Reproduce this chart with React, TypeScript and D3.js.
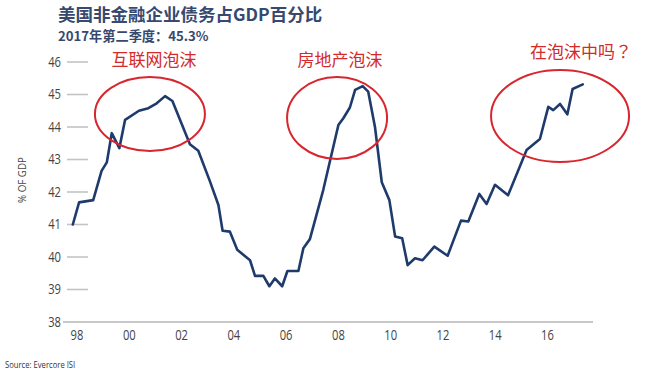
import React from "react";
import * as d3 from "d3";

const W = 657;
const H = 376;

const titleText = "美国非金融企业债务占GDP百分比";
const subtitleText = "2017年第二季度：45.3%";
const yAxisLabel = "% OF GDP";
const sourceText = "Source: Evercore ISI";

const yTicks = [38, 39, 40, 41, 42, 43, 44, 45, 46];
const xTicks = [1998, 2000, 2002, 2004, 2006, 2008, 2010, 2012, 2014, 2016];
const xTickLabels = ["98", "00", "02", "04", "06", "08", "10", "12", "14", "16"];

const dates = [
  1997.84, 1998.08, 1998.62, 1998.94, 1999.14, 1999.33, 1999.62, 1999.84, 2000.37, 2000.73,
  2001.05, 2001.37, 2001.65, 2002.32, 2002.64, 2003.09, 2003.41, 2003.57, 2003.85, 2004.13,
  2004.62, 2004.81, 2005.13, 2005.36, 2005.57, 2005.85, 2006.05, 2006.47, 2006.66, 2006.91,
  2007.42, 2008.0, 2008.19, 2008.44, 2008.64, 2008.93, 2009.14, 2009.4, 2009.66, 2009.95,
  2010.17, 2010.44, 2010.65, 2010.93, 2011.22, 2011.67, 2012.18, 2012.69, 2012.97, 2013.39,
  2013.67, 2013.99, 2014.49, 2015.2, 2015.71, 2016.03, 2016.22, 2016.48, 2016.76, 2016.96,
  2017.35,
];
const debtPct = [
  41.0, 41.68, 41.75, 42.65, 42.91, 43.81, 43.35, 44.22, 44.5, 44.58,
  44.73, 44.95, 44.8, 43.47, 43.27, 42.32, 41.6, 40.81, 40.78, 40.22,
  39.9, 39.42, 39.42, 39.1, 39.34, 39.1, 39.57, 39.57, 40.27, 40.55,
  42.06, 44.06, 44.27, 44.6, 45.14, 45.26, 45.09, 44.0, 42.3, 41.75,
  40.63, 40.58, 39.75, 39.96, 39.9, 40.32, 40.04, 41.12, 41.09, 41.94,
  41.63, 42.22, 41.9, 43.29, 43.63, 44.62, 44.52, 44.71, 44.39, 45.17,
  45.31,
];

const bubbleLabels = ["互联网泡沫", "房地产泡沫", "在泡沫中吗？"];
const bubbleYears = [2000.79, 2007.95, 2016.48];
const bubbleValues = [44.4, 44.28, 44.34];

export default function App() {
  React.useEffect(() => {
    document.body.style.margin = "0";
  }, []);

  const x = d3.scaleLinear().domain([1998, 2016]).range([77, 547.5]);
  const y = d3.scaleLinear().domain([38, 46]).range([322, 62]);

  const pts: [number, number][] = dates.map((d, i) => [d, debtPct[i]]);
  const line = d3
    .line<[number, number]>()
    .x((d) => x(d[0]))
    .y((d) => y(d[1]));

  const ellipseR = [
    [55, 37],
    [50, 41],
    [69, 46],
  ];
  const labelOffsets = [
    [4, -48],
    [3, -52],
    [21, -58],
  ];
  const labelFonts = [
    "'Noto Sans CJK SC', sans-serif",
    "'Noto Sans CJK SC', sans-serif",
    "'Noto Sans CJK TC', 'Noto Sans CJK SC', sans-serif",
  ];

  const numFont = "'Open Sans', 'DejaVu Sans', sans-serif";
  const cjk = "'Noto Sans CJK SC', 'Noto Sans', sans-serif";

  return (
    <svg
      width={W}
      height={H}
      style={{ position: "absolute", left: 0, top: 0, background: "#fff" }}
    >
      <text x={58} y={21} fontFamily={cjk} fontWeight={700} fontSize={17.5} fill="#37496e">
        {titleText}
      </text>
      <text x={58} y={41.2} fontFamily={cjk} fontWeight={700} fontSize={13.2} fill="#37496e">
        {subtitleText}
      </text>

      {/* y ticks */}
      {yTicks.map((t) =>
        t === 38 ? null : (
          <line key={"yl" + t} x1={67} x2={88} y1={y(t)} y2={y(t)} stroke="#c4c4c4" strokeWidth={1.6} />
        )
      )}
      <line x1={63} x2={593} y1={y(38)} y2={y(38)} stroke="#c8c8c8" strokeWidth={2} />
      {yTicks.map((t) => (
        <text
          key={"yt" + t}
          transform={`translate(61,${y(t) + 4.8}) scale(0.8,1)`}
          textAnchor="end"
          fontFamily={numFont}
          fontSize={14}
          fill="#444"
        >
          {t}
        </text>
      ))}
      <text
        transform={`translate(26,180) rotate(-90) scale(0.85,1)`}
        textAnchor="middle"
        fontFamily={numFont}
        fontSize={11.5}
        fill="#444"
      >
        {yAxisLabel}
      </text>

      {/* x ticks */}
      {xTicks.map((t, i) => (
        <text
          key={"xt" + t}
          transform={`translate(${x(t)},340) scale(0.8,1)`}
          textAnchor="middle"
          fontFamily={numFont}
          fontSize={14}
          fill="#444"
        >
          {xTickLabels[i]}
        </text>
      ))}

      <path
        d={line(pts) || ""}
        fill="none"
        stroke="#1f3b6c"
        strokeWidth={2.6}
        strokeLinejoin="round"
        strokeLinecap="round"
      />

      {bubbleLabels.map((lab, i) => {
        const cx = x(bubbleYears[i]);
        const cy = y(bubbleValues[i]);
        return (
          <g key={"b" + i}>
            <ellipse
              cx={cx}
              cy={cy}
              rx={ellipseR[i][0]}
              ry={ellipseR[i][1]}
              fill="none"
              stroke="#d8262e"
              strokeWidth={2}
            />
            <text
              x={cx + labelOffsets[i][0]}
              y={cy + labelOffsets[i][1]}
              textAnchor="middle"
              fontFamily={labelFonts[i]}
              fontSize={17}
              fill="#d42a2a"
            >
              {lab}
            </text>
          </g>
        );
      })}

      <text
        transform="translate(5,368) scale(0.85,1)"
        fontFamily={numFont}
        fontSize={9}
        fill="#333"
      >
        {sourceText}
      </text>
    </svg>
  );
}
